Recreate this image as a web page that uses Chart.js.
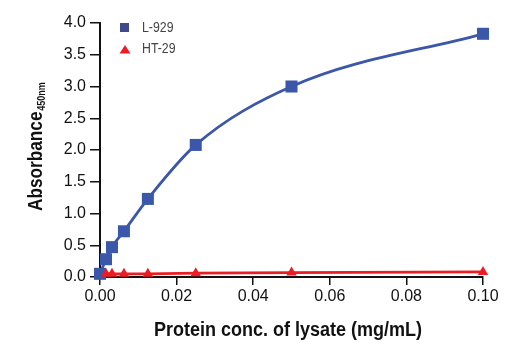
<!DOCTYPE html>
<html>
<head>
<meta charset="utf-8">
<script src="https://cdn.jsdelivr.net/npm/chart.js@4/dist/chart.umd.min.js"></script>
<style>
  body { margin: 0; background: #fff; }
  #wrap { width: 520px; height: 350px; }
</style>
</head>
<body>
<div id="wrap"><canvas id="chart"></canvas></div>
<script>
// protein concentration (mg/mL), two-fold dilutions
const l929Conc = [0, 0.0015625, 0.003125, 0.00625, 0.0125, 0.025, 0.05, 0.1];
const l929Abs  = [0.05, 0.28, 0.47, 0.72, 1.23, 2.08, 3.00, 3.83];
const ht29Conc = [0.0015625, 0.003125, 0.00625, 0.0125, 0.025, 0.05, 0.1];
const ht29Abs  = [0.05, 0.05, 0.05, 0.05, 0.06, 0.07, 0.08];
const xTicks = [0, 0.02, 0.04, 0.06, 0.08, 0.10];
const yTicks = [0, 0.5, 1.0, 1.5, 2.0, 2.5, 3.0, 3.5, 4.0];

const TICK_FONT = '"Liberation Sans", Arial, sans-serif';
const TITLE_FONT = '"Liberation Sans", Arial, sans-serif';
const BLUE = '#3a57a9';
const RED = '#ec1c24';

const toXY = (xs, ys) => xs.map((x, i) => ({ x: x, y: ys[i] }));

// axis titles + legend drawn by hand (subscript, legend inside plot)
const extrasPlugin = {
    id: 'extras',
    afterDraw(chart) {
        const ctx = chart.ctx;

        // y title with subscript, squeezed to look condensed
        ctx.save();
        ctx.fillStyle = '#111';
        ctx.translate(35, 147);
        ctx.rotate(-Math.PI / 2);
        ctx.scale(0.82, 1);
        const main = 'Absorbance', sub = '450nm';
        ctx.font = 'bold 21px ' + TITLE_FONT;
        const mainW = ctx.measureText(main).width;
        ctx.font = 'bold 11px ' + TITLE_FONT;
        const subW = ctx.measureText(sub).width;
        const startX = -(mainW + subW) / 2;
        ctx.textAlign = 'left';
        ctx.textBaseline = 'alphabetic';
        ctx.font = 'bold 21px ' + TITLE_FONT;
        ctx.fillText(main, startX, 7);
        ctx.font = 'bold 11px ' + TITLE_FONT;
        ctx.fillText(sub, startX + mainW + 1, 10);
        ctx.restore();

        // x title
        ctx.save();
        ctx.fillStyle = '#111';
        ctx.translate(288, 330);
        ctx.scale(0.9, 1);
        ctx.font = 'bold 20px ' + TITLE_FONT;
        ctx.textAlign = 'center';
        ctx.textBaseline = 'middle';
        ctx.fillText('Protein conc. of lysate (mg/mL)', 0, 0);
        ctx.restore();

        // legend
        ctx.save();
        ctx.fillStyle = '#3f4a8c';
        ctx.fillRect(120, 23, 9, 9);
        ctx.fillStyle = RED;
        ctx.beginPath();
        ctx.moveTo(125, 45);
        ctx.lineTo(130.5, 53.5);
        ctx.lineTo(119.5, 53.5);
        ctx.closePath();
        ctx.fill();
        ctx.fillStyle = '#444';
        ctx.font = '14px ' + TICK_FONT;
        ctx.textBaseline = 'middle';
        ctx.textAlign = 'left';
        ctx.translate(142, 0);
        ctx.scale(0.88, 1);
        ctx.fillText('L-929', 0, 28);
        ctx.fillText('HT-29', 0, 49);
        ctx.restore();
    }
};

new Chart(document.getElementById('chart'), {
    type: 'line',
    data: {
        datasets: [{
            label: 'HT-29',
            data: toXY(ht29Conc, ht29Abs),
            borderColor: RED,
            backgroundColor: RED,
            borderWidth: 2.8,
            pointStyle: 'triangle',
            pointRadius: 6,
            pointBorderWidth: 0,
            tension: 0,
            clip: false
        }, {
            label: 'L-929',
            data: toXY(l929Conc, l929Abs),
            borderColor: BLUE,
            backgroundColor: BLUE,
            borderWidth: 2.8,
            pointStyle: 'rect',
            pointRadius: 8.5,
            pointBorderWidth: 0,
            cubicInterpolationMode: 'monotone',
            clip: false
        }]
    },
    options: {
        responsive: true,
        maintainAspectRatio: false,
        animation: false,
        layout: { padding: { left: 0, right: 37, top: 23, bottom: 0 } },
        plugins: { legend: { display: false }, tooltip: { enabled: false } },
        scales: {
            x: {
                type: 'linear',
                min: 0, max: 0.1,
                afterBuildTicks: s => { s.ticks = xTicks.map(v => ({ value: v })); },
                afterFit: s => { s.height = 73; },
                grid: { display: true, drawOnChartArea: false, drawTicks: true, tickLength: 8, color: '#111', lineWidth: 1.5 },
                border: { display: true, color: '#111', width: 2 },
                ticks: {
                    color: '#111',
                    padding: 2,
                    font: { family: TICK_FONT, size: 16 },
                    callback: v => v.toFixed(2)
                }
            },
            y: {
                min: 0, max: 4,
                afterBuildTicks: s => { s.ticks = yTicks.map(v => ({ value: v })); },
                afterFit: s => { s.width = 100; },
                grid: { display: true, drawOnChartArea: false, drawTicks: true, tickLength: 10, color: '#111', lineWidth: 1.5 },
                border: { display: true, color: '#111', width: 2 },
                ticks: {
                    color: '#111',
                    padding: 4,
                    font: { family: TICK_FONT, size: 16 },
                    callback: v => v.toFixed(1)
                }
            }
        }
    },
    plugins: [extrasPlugin]
});
</script>
</body>
</html>
